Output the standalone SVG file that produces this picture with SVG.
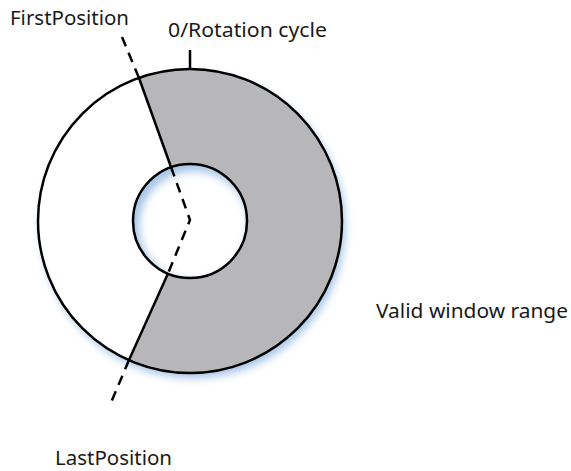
<svg xmlns="http://www.w3.org/2000/svg" width="571" height="471" viewBox="0 0 571 471">
<style>
.lbl{font-family:"Noto Sans","Open Sans",sans-serif;font-size:20px;fill:#1a1a1a}
.edge{stroke:#000;stroke-width:2.5;fill:none}
.dash{stroke:#000;stroke-width:2.5;fill:none;stroke-dasharray:10 7}
</style>
<defs>
<filter id="glow" x="-20%" y="-20%" width="140%" height="140%"><feGaussianBlur stdDeviation="4"/></filter>
<clipPath id="innerClip"><circle cx="190" cy="221" r="57"/></clipPath>
</defs>
<g id="ring">
<circle cx="193" cy="226" r="152" fill="#a3c3e6" filter="url(#glow)"/>
<circle cx="190" cy="221" r="152" fill="#fff"/>
<path d="M139,78 A152,152 0 1,1 129,360 L168,273.5 A57,57 0 1,0 171,167 Z" fill="#b7b7b9"/>
<g clip-path="url(#innerClip)">
<circle cx="190" cy="221" r="57" fill="#a3c3e6"/>
<circle cx="194" cy="226" r="55" fill="#fff" filter="url(#glow)"/>
</g>
<circle cx="190" cy="221" r="152" class="edge"/>
<circle cx="190" cy="221" r="57" class="edge"/>
</g>
<g id="connectors">
<line x1="139" y1="78" x2="171" y2="167" class="edge"/>
<line x1="168" y1="273.5" x2="129" y2="360" class="edge"/>
<line x1="190" y1="50" x2="190" y2="70" class="edge"/>
<line x1="122" y1="37" x2="139" y2="78" class="dash"/>
<polyline points="171,167 190,220 168,273.5" class="dash"/>
<line x1="129" y1="360" x2="110" y2="405" class="dash"/>
</g>
<g id="labels">
<text class="lbl" x="10" y="25" textLength="119" lengthAdjust="spacingAndGlyphs">FirstPosition</text>
<text class="lbl" x="168" y="37" textLength="159" lengthAdjust="spacingAndGlyphs">0/Rotation cycle</text>
<text class="lbl" x="376" y="318" textLength="192" lengthAdjust="spacingAndGlyphs">Valid window range</text>
<text class="lbl" x="55" y="465" textLength="117" lengthAdjust="spacingAndGlyphs">LastPosition</text>
</g>
</svg>
